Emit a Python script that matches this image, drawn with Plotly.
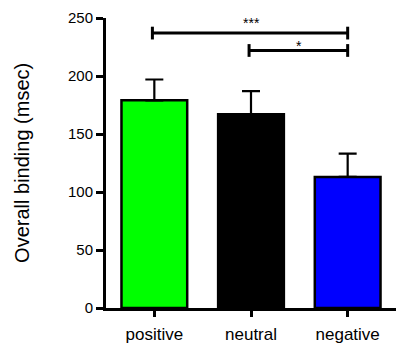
import plotly.graph_objects as go

categories = ["positive", "neutral", "negative"]
means = [179, 167, 113]
errors = [18, 20, 20]
colors = ["#00ff00", "#000000", "#0000ff"]
y_ticks = [0, 50, 100, 150, 200, 250]

# significance comparisons: (from index, to index, line level, star level, label)
sig_pairs = [(0, 2, 237, 245.5, "***"), (1, 2, 222, 225.5, "*")]

fig = go.Figure()
fig.add_trace(go.Bar(
    x=list(range(len(categories))), y=means, width=0.68,
    marker=dict(color=colors, line=dict(color="black", width=2.5)),
    error_y=dict(type="data", symmetric=False, array=errors,
                 arrayminus=[0] * len(errors), color="black",
                 thickness=2.2, width=9),
    showlegend=False,
))

for a, b, level, star_level, label in sig_pairs:
    fig.add_shape(type="line", x0=a - 0.02, x1=b, y0=level, y1=level,
                  xref="x", yref="y", line=dict(color="black", width=3))
    for xx in (a - 0.02, b):
        fig.add_shape(type="line", x0=xx, x1=xx, y0=level - 5.5, y1=level + 5.5,
                      xref="x", yref="y", line=dict(color="black", width=3))
    fig.add_annotation(x=(a + b) / 2, y=star_level, text=label, showarrow=False,
                       xref="x", yref="y", yanchor="middle",
                       font=dict(size=14, color="black", family="Liberation Sans"))

fig.add_annotation(text="Overall binding (msec)", textangle=-90, showarrow=False,
                   xref="paper", yref="paper", x=-0.29, y=0.5,
                   xanchor="center", yanchor="middle",
                   font=dict(size=20, color="black", family="Liberation Sans"))

fig.update_layout(
    width=396, height=344,
    margin=dict(l=106, r=0, t=18, b=34),
    paper_bgcolor="white", plot_bgcolor="white",
    font=dict(family="Liberation Sans", color="black"),
)
fig.update_xaxes(range=[-0.5, 2.5], tickvals=list(range(len(categories))),
                 ticktext=categories, showline=True, linewidth=3, linecolor="black",
                 ticks="outside", ticklen=6, tickwidth=2.5, tickcolor="black",
                 showgrid=False, zeroline=False, tickfont=dict(size=17),
                 ticklabelstandoff=3)
fig.update_yaxes(range=[0, 250], tickvals=y_ticks, showline=True, linewidth=3,
                 linecolor="black", ticks="outside", ticklen=7, tickwidth=2.5,
                 tickcolor="black", showgrid=False, zeroline=False,
                 tickfont=dict(size=15))

fig.write_html("out.html", config={"displayModeBar": False},
               post_script="document.body.style.margin='0';")
